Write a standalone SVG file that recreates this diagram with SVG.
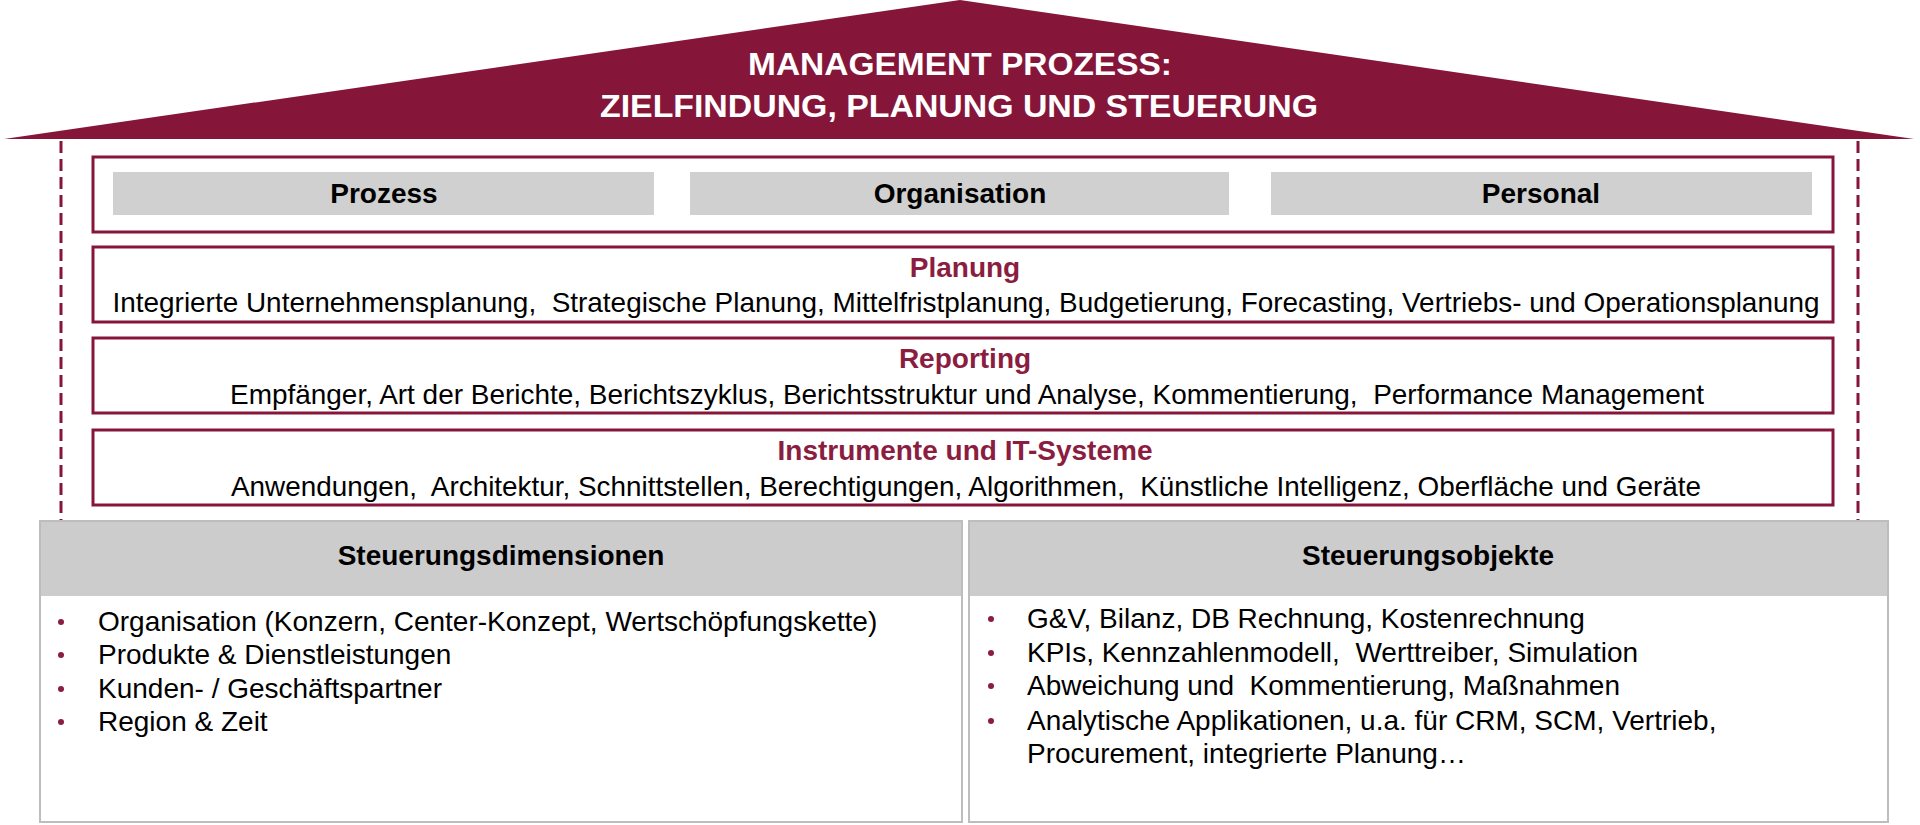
<svg xmlns="http://www.w3.org/2000/svg" width="1920" height="825" viewBox="0 0 1920 825">
<style>
text{font-family:"Liberation Sans",Arial,sans-serif;white-space:pre;fill:#000}
.roof{fill:#85163A}
.ttl{fill:#fff;font-weight:bold;font-size:32px;text-anchor:middle}
.frame{fill:#fff;stroke:#85163A;stroke-width:3}
.gray{fill:#D0D0D0}
.lbl{font-weight:bold;font-size:28px;text-anchor:middle}
.head{font-weight:bold;font-size:28px;text-anchor:middle;fill:#8A1D40}
.body{font-size:28px;text-anchor:middle}
.panel{fill:#fff;stroke:#BDBDBD;stroke-width:2}
.phead{fill:#CCCCCC}
.item{font-size:28px}
.dot{fill:#8A1D40}
.dash{stroke:#85163A;stroke-width:3;stroke-dasharray:12 6;fill:none}
</style>
<g id="connectors">
<line class="dash" x1="61" y1="141" x2="61" y2="522"/>
<line class="dash" x1="1858" y1="141" x2="1858" y2="522"/>
</g>
<g id="roof">
<polygon class="roof" points="4,139 960,0 1914,139"/>
<text class="ttl" x="960" y="75" textLength="424" lengthAdjust="spacingAndGlyphs">MANAGEMENT PROZESS:</text>
<text class="ttl" x="959" y="117" textLength="718" lengthAdjust="spacingAndGlyphs">ZIELFINDUNG, PLANUNG UND STEUERUNG</text>
</g>
<g id="dimensions">
<rect class="frame" x="93" y="157" width="1740" height="75"/>
<rect class="gray" x="113" y="172" width="541" height="43"/>
<rect class="gray" x="690" y="172" width="539" height="43"/>
<rect class="gray" x="1271" y="172" width="541" height="43"/>
<text class="lbl" x="384" y="203">Prozess</text>
<text class="lbl" x="960" y="203">Organisation</text>
<text class="lbl" x="1541" y="203">Personal</text>
</g>
<g id="planung">
<rect class="frame" x="93" y="247" width="1740" height="75"/>
<text class="head" x="965" y="277">Planung</text>
<text class="body" x="966" y="312" textLength="1707" lengthAdjust="spacingAndGlyphs">Integrierte Unternehmensplanung,  Strategische Planung, Mittelfristplanung, Budgetierung, Forecasting, Vertriebs- und Operationsplanung</text>
</g>
<g id="reporting">
<rect class="frame" x="93" y="338" width="1740" height="75"/>
<text class="head" x="965" y="368">Reporting</text>
<text class="body" x="967" y="404" textLength="1474" lengthAdjust="spacingAndGlyphs">Empfänger, Art der Berichte, Berichtszyklus, Berichtsstruktur und Analyse, Kommentierung,  Performance Management</text>
</g>
<g id="instrumente">
<rect class="frame" x="93" y="430" width="1740" height="75"/>
<text class="head" x="965" y="460">Instrumente und IT-Systeme</text>
<text class="body" x="966" y="496" textLength="1470" lengthAdjust="spacingAndGlyphs">Anwendungen,  Architektur, Schnittstellen, Berechtigungen, Algorithmen,  Künstliche Intelligenz, Oberfläche und Geräte</text>
</g>
<g id="steuerungsdimensionen">
<rect class="panel" x="40" y="521" width="922" height="301"/>
<rect class="phead" x="41" y="522" width="920" height="74"/>
<text class="lbl" x="501" y="565">Steuerungsdimensionen</text>
<circle class="dot" cx="61" cy="622" r="3"/>
<text class="item" x="98" y="631">Organisation (Konzern, Center-Konzept, Wertschöpfungskette)</text>
<circle class="dot" cx="61" cy="655" r="3"/>
<text class="item" x="98" y="664">Produkte &amp; Dienstleistungen</text>
<circle class="dot" cx="61" cy="689" r="3"/>
<text class="item" x="98" y="698">Kunden- / Geschäftspartner</text>
<circle class="dot" cx="61" cy="722" r="3"/>
<text class="item" x="98" y="731">Region &amp; Zeit</text>
</g>
<g id="steuerungsobjekte">
<rect class="panel" x="969" y="521" width="919" height="301"/>
<rect class="phead" x="970" y="522" width="917" height="74"/>
<text class="lbl" x="1428" y="565">Steuerungsobjekte</text>
<circle class="dot" cx="991" cy="619" r="3"/>
<text class="item" x="1027" y="628">G&amp;V, Bilanz, DB Rechnung, Kostenrechnung</text>
<circle class="dot" cx="991" cy="653" r="3"/>
<text class="item" x="1027" y="662">KPIs, Kennzahlenmodell,  Werttreiber, Simulation</text>
<circle class="dot" cx="991" cy="686" r="3"/>
<text class="item" x="1027" y="695">Abweichung und  Kommentierung, Maßnahmen</text>
<circle class="dot" cx="991" cy="721" r="3"/>
<text class="item" x="1027" y="730">Analytische Applikationen, u.a. für CRM, SCM, Vertrieb,</text>
<text class="item" x="1027" y="763">Procurement, integrierte Planung…</text>
</g>
</svg>
